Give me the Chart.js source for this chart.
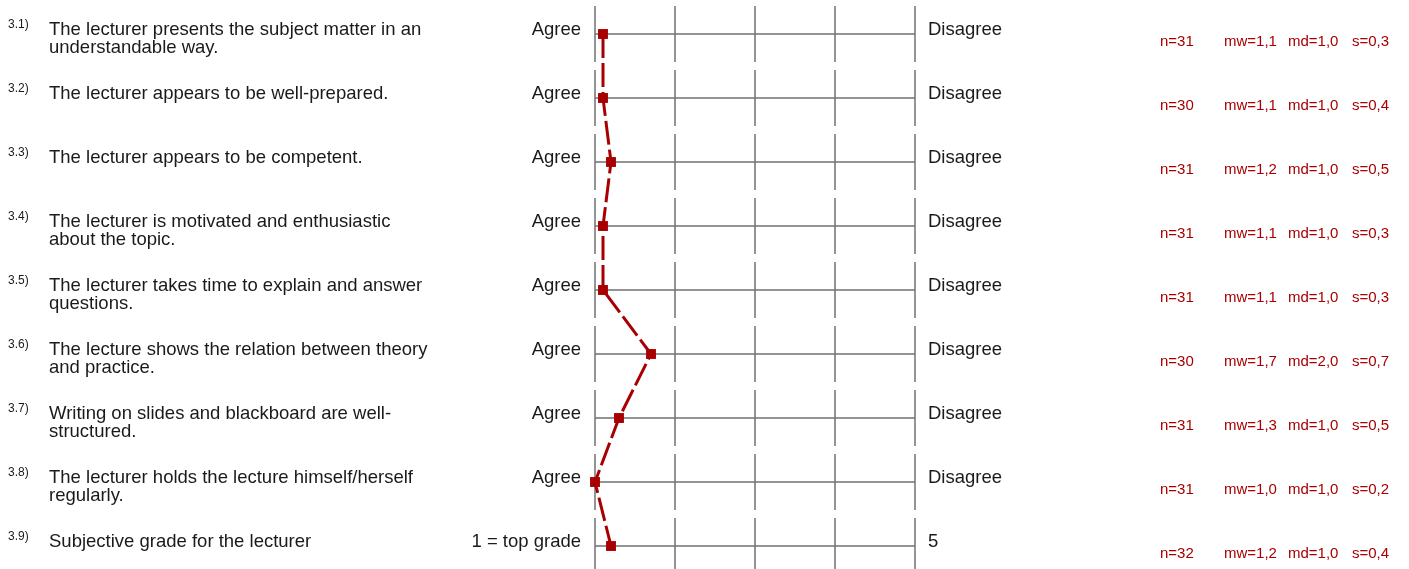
<!DOCTYPE html>
<html>
<head>
<meta charset="utf-8">
<script src="https://cdn.jsdelivr.net/npm/chart.js@4"></script>
<style>
  html, body { margin: 0; padding: 0; background: #fff; }
  #chart { display: block; }
</style>
</head>
<body>
<canvas id="chart" width="1409" height="569"></canvas>
<script>
const itemIds = ['3.1)', '3.2)', '3.3)', '3.4)', '3.5)', '3.6)', '3.7)', '3.8)', '3.9)'];
const questions = [
    ['The lecturer presents the subject matter in an', 'understandable way.'],
    ['The lecturer appears to be well-prepared.'],
    ['The lecturer appears to be competent.'],
    ['The lecturer is motivated and enthusiastic', 'about the topic.'],
    ['The lecturer takes time to explain and answer', 'questions.'],
    ['The lecture shows the relation between theory', 'and practice.'],
    ['Writing on slides and blackboard are well-', 'structured.'],
    ['The lecturer holds the lecture himself/herself', 'regularly.'],
    ['Subjective grade for the lecturer']
];
const leftLabels = ['Agree', 'Agree', 'Agree', 'Agree', 'Agree', 'Agree', 'Agree', 'Agree', '1 = top grade'];
const rightLabels = ['Disagree', 'Disagree', 'Disagree', 'Disagree', 'Disagree', 'Disagree', 'Disagree', 'Disagree', '5'];
const nValues = [31, 30, 31, 31, 31, 30, 31, 31, 32];
const meanValues = [1.1, 1.1, 1.2, 1.1, 1.1, 1.7, 1.3, 1.0, 1.2];
const medianValues = [1.0, 1.0, 1.0, 1.0, 1.0, 2.0, 1.0, 1.0, 1.0];
const sdValues = [0.3, 0.4, 0.5, 0.3, 0.3, 0.7, 0.5, 0.2, 0.4];
const scaleTicks = [1, 2, 3, 4, 5];

const FONT = 'Arial, "Liberation Sans", sans-serif';
const RED = '#a80000';

function fmt(v) {
    return v.toFixed(1).replace('.', ',');
}

const profilePlugin = {
    id: 'profile',
    beforeDatasetsDraw(chart) {
        const c = chart.ctx;
        const xs = chart.scales.x;
        const ys = chart.scales.y;
        c.save();
        c.strokeStyle = '#707070';
        c.lineWidth = 1.5;
        for (let i = 0; i < questions.length; i++) {
            const y = ys.getPixelForValue(i);
            // horizontal line of the row
            c.beginPath();
            c.moveTo(xs.getPixelForValue(1), y);
            c.lineTo(xs.getPixelForValue(5), y);
            c.stroke();
            // vertical tick segments of the row
            for (const t of scaleTicks) {
                const x = xs.getPixelForValue(t);
                c.beginPath();
                c.moveTo(x, y - 28);
                c.lineTo(x, y + 28);
                c.stroke();
            }
        }
        c.restore();
    },
    afterDraw(chart) {
        const c = chart.ctx;
        const xs = chart.scales.x;
        const ys = chart.scales.y;
        const left = xs.getPixelForValue(1);
        const right = xs.getPixelForValue(5);
        c.save();
        c.textBaseline = 'alphabetic';
        for (let i = 0; i < questions.length; i++) {
            const y = ys.getPixelForValue(i);
            // item number
            c.fillStyle = '#1a1a1a';
            c.font = '12px ' + FONT;
            c.textAlign = 'left';
            c.fillText(itemIds[i], 8, y - 6);
            // question text
            c.font = '18.5px ' + FONT;
            questions[i].forEach((line, k) => {
                c.fillText(line, 49, y + 1 + k * 18);
            });
            // scale end labels
            c.textAlign = 'right';
            c.fillText(leftLabels[i], left - 14, y + 1);
            c.textAlign = 'left';
            c.fillText(rightLabels[i], right + 13, y + 1);
            // statistics
            c.fillStyle = RED;
            c.font = '15px ' + FONT;
            c.fillText('n=' + nValues[i], 1160, y + 12);
            c.fillText('mw=' + fmt(meanValues[i]), 1224, y + 12);
            c.fillText('md=' + fmt(medianValues[i]), 1288, y + 12);
            c.fillText('s=' + fmt(sdValues[i]), 1352, y + 12);
        }
        c.restore();
    }
};

const ctx = document.querySelector('#chart').getContext('2d');
const chart = new Chart(ctx, {
    type: 'line',
    data: {
        datasets: [{
            data: meanValues.map((v, i) => ({ x: v, y: i })),
            borderColor: RED,
            borderWidth: 3,
            borderDash: [24, 5],
            pointStyle: 'rect',
            pointRadius: 7,
            pointBackgroundColor: RED,
            pointBorderWidth: 0,
            tension: 0,
            clip: false
        }]
    },
    options: {
        responsive: false,
        animation: false,
        layout: {
            padding: { left: 595, right: 494, top: 34, bottom: 23 }
        },
        scales: {
            x: { type: 'linear', min: 1, max: 5, display: false },
            y: { type: 'linear', min: 0, max: 8, reverse: true, display: false }
        },
        plugins: {
            legend: { display: false },
            tooltip: { enabled: false }
        }
    },
    plugins: [profilePlugin]
});
</script>
</body>
</html>
